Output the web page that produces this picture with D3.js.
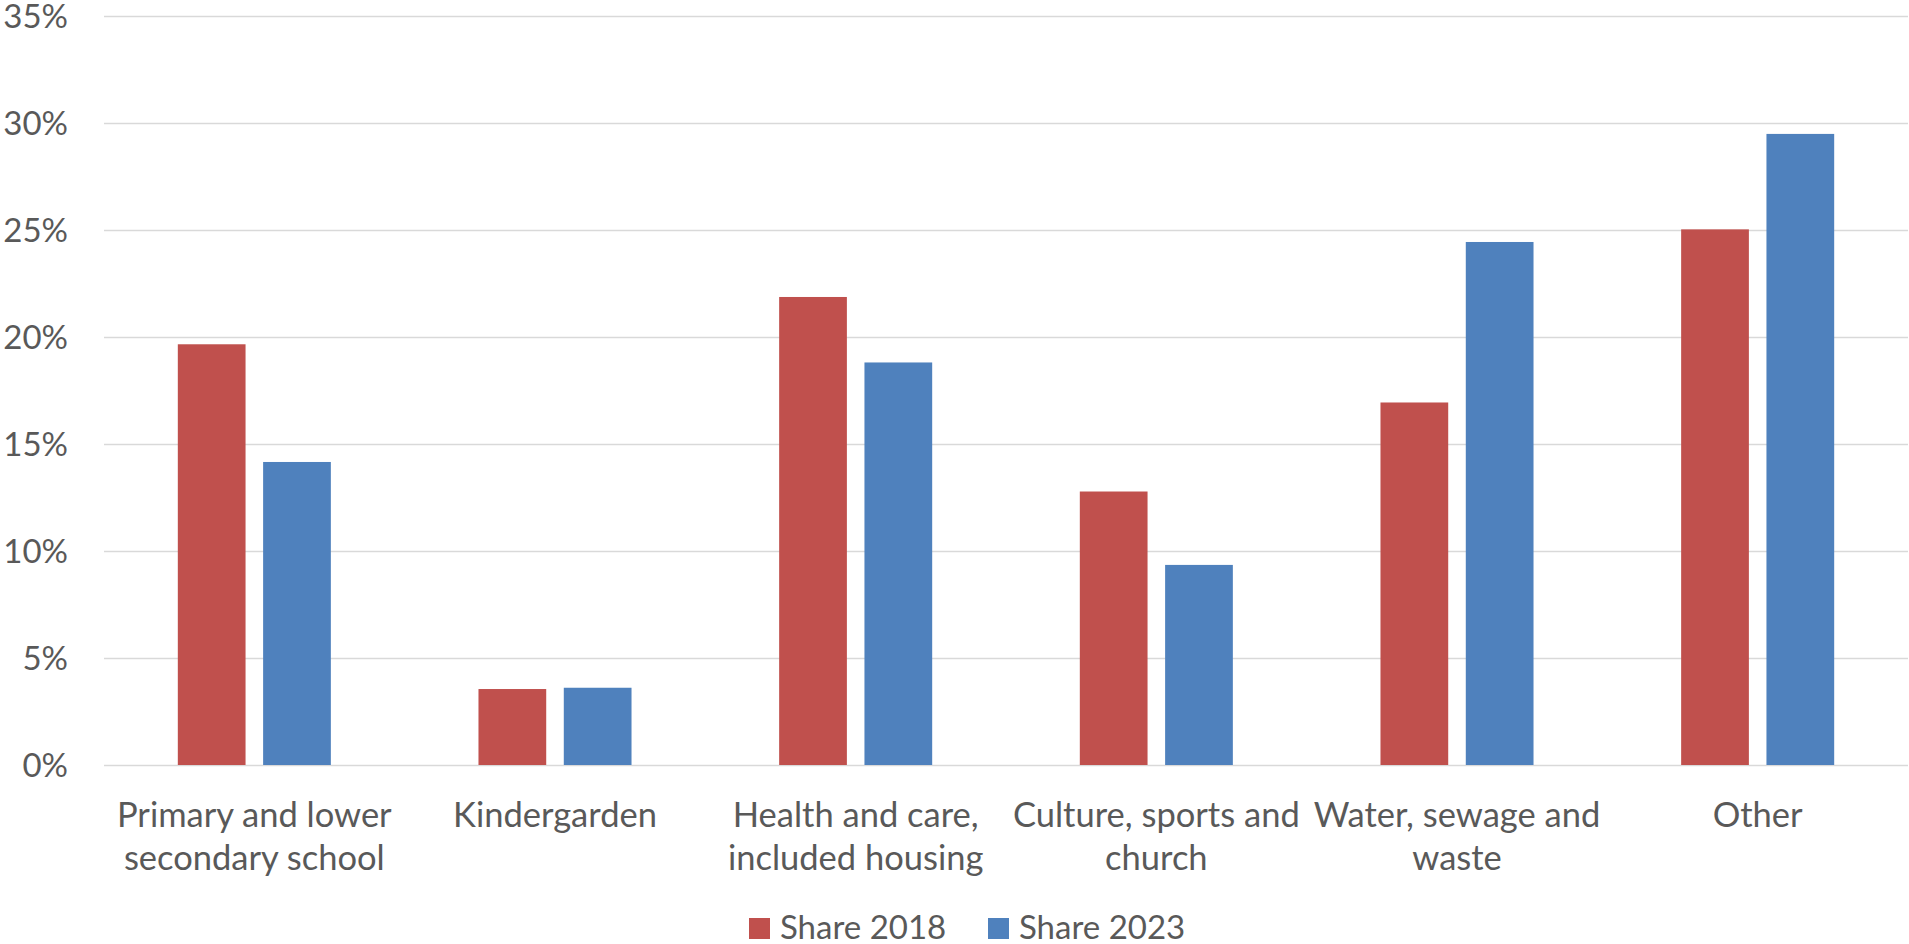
<!DOCTYPE html>
<html>
<head>
<meta charset="utf-8">
<script src="https://cdn.jsdelivr.net/npm/d3@7"></script>
<style>
  html, body { margin: 0; padding: 0; background: #fff; }
  svg { display: block; }
  text { font-family: Lato, "Open Sans", sans-serif; fill: #595959; }
</style>
</head>
<body>
<svg id="chart" width="1909" height="944"></svg>
<script>
const categories = [
  "Primary and lower\nsecondary school",
  "Kindergarden",
  "Health and care,\nincluded housing",
  "Culture, sports and\nchurch",
  "Water, sewage and\nwaste",
  "Other"
];
const seriesNames = ["Share 2018", "Share 2023"];
const share2018 = [0.1966, 0.0355, 0.2187, 0.1278, 0.1694, 0.2503];
const share2023 = [0.1416, 0.0361, 0.1881, 0.0935, 0.2444, 0.2949];
const yTicks = [0, 0.05, 0.10, 0.15, 0.20, 0.25, 0.30, 0.35];
const colors = ["#C0504D", "#4F81BD"];

const svg = d3.select("#chart");
const W = 1909, H = 944;
const m = { left: 104, right: 1, top: 16, bottom: 179 };
const fontSize = 33;
const catFontSize = 34.5;

const x0 = d3.scaleBand().domain(d3.range(categories.length))
  .range([m.left, W - m.right]).paddingInner(0.491).paddingOuter(0.2455);
const x1 = d3.scaleBand().domain(d3.range(seriesNames.length))
  .range([0, x0.bandwidth()]).paddingInner(0.206).paddingOuter(0);
const y = d3.scaleLinear().domain([0, 0.35]).range([H - m.bottom, m.top]);

// gridlines
const yAxis = d3.axisLeft(y).tickValues(yTicks).tickFormat(d3.format(".0%"))
  .tickSize(-(W - m.right - m.left)).tickPadding(36);
const gy = svg.append("g").attr("transform", `translate(${m.left},0)`).call(yAxis);
gy.select(".domain").remove();
gy.selectAll(".tick line").attr("stroke", "#d9d9d9").attr("stroke-width", 1.5);
gy.selectAll(".tick text").attr("font-size", fontSize).attr("fill", "#595959")
  .attr("dy", "0.36em")
  .style("font-family", "Lato, 'Open Sans', sans-serif");

// bars
const series = [share2018, share2023];
const groups = svg.append("g").selectAll("g").data(series).join("g")
  .attr("fill", (d, i) => colors[i]);
groups.each(function(vals, si) {
  d3.select(this).selectAll("rect").data(vals).join("rect")
    .attr("x", (d, i) => x0(i) + x1(si))
    .attr("width", x1.bandwidth())
    .attr("y", d => y(d))
    .attr("height", d => y(0) - y(d));
});

// category labels
const xAxis = d3.axisBottom(x0).tickSize(0).tickFormat("");
const gx = svg.append("g").attr("transform", `translate(0,${y(0)})`).call(xAxis);
gx.select(".domain").remove();
gx.selectAll(".tick").each(function(d) {
  const lines = categories[d].split("\n");
  const t = d3.select(this).append("text")
    .attr("text-anchor", "middle").attr("font-size", catFontSize).attr("fill", "#595959");
  lines.forEach((ln, k) => {
    t.append("tspan").attr("x", 0).attr("y", 62 + k * 43.3).text(ln);
  });
});

// legend
const legend = svg.append("g");
const legendItems = [{ x: 749 }, { x: 988 }];
seriesNames.forEach((name, i) => {
  const g = legend.append("g").attr("transform", `translate(${legendItems[i].x},918)`);
  g.append("rect").attr("width", 21).attr("height", 21).attr("fill", colors[i]);
  g.append("text").attr("x", 31).attr("y", 20.5).attr("font-size", fontSize).text(name);
});
</script>
</body>
</html>
